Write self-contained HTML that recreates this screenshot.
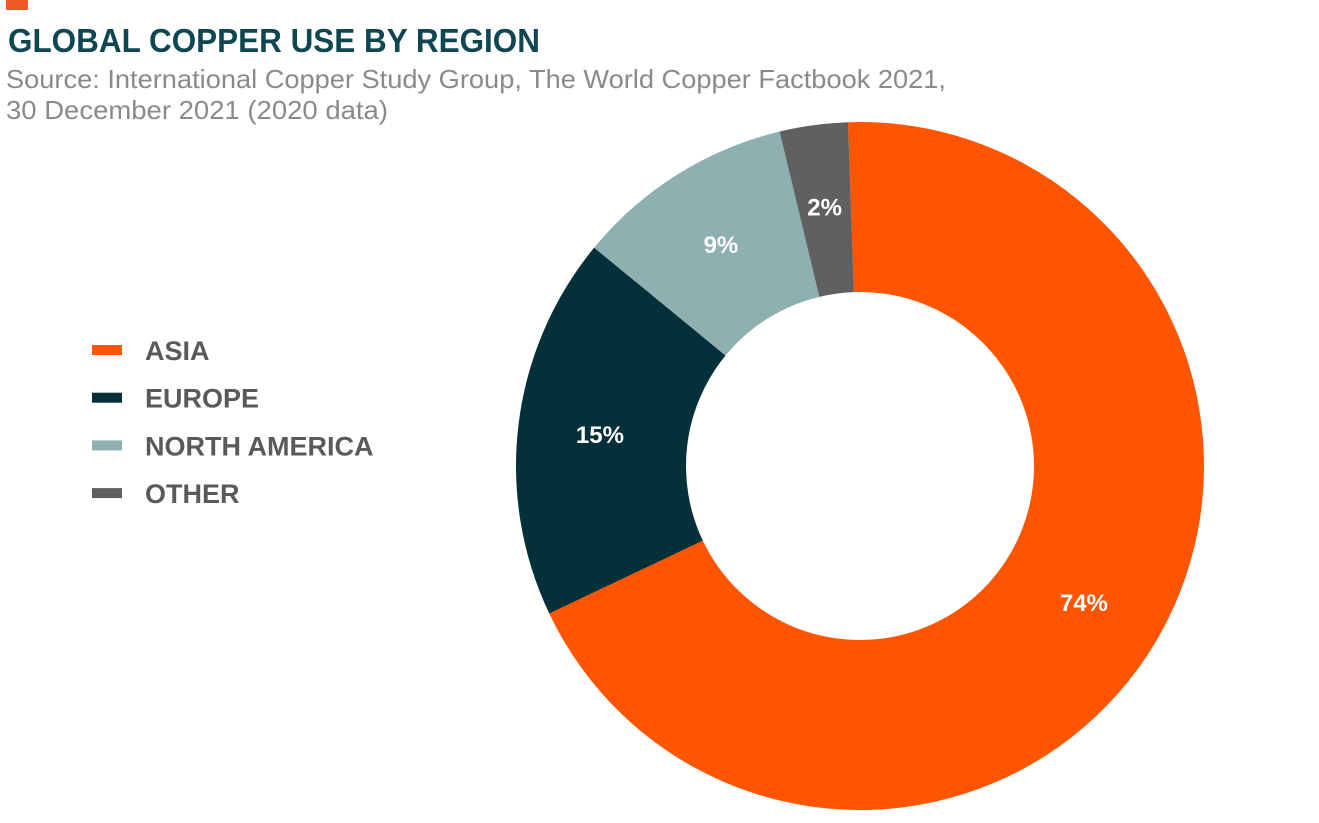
<!DOCTYPE html>
<html><head><meta charset="utf-8"><style>
html,body{margin:0;padding:0;background:#fff;}
svg{display:block;font-family:"Liberation Sans",sans-serif;}
</style></head><body>
<svg id="chart" width="1319" height="823" viewBox="0 0 1319 823">
<rect x="6" y="0" width="22" height="10" fill="#f15a24"/>
<text x="8" y="52" font-size="33" font-weight="bold" fill="#0e4651" textLength="532" lengthAdjust="spacingAndGlyphs">GLOBAL COPPER USE BY REGION</text>
<text x="6" y="88" font-size="26" fill="#8a8a8a" textLength="940" lengthAdjust="spacingAndGlyphs">Source: International Copper Study Group, The World Copper Factbook 2021,</text>
<text x="6" y="119" font-size="26" fill="#8a8a8a" textLength="382" lengthAdjust="spacingAndGlyphs">30 December 2021 (2020 data)</text>
<g id="legend"></g>
<g id="slices"></g>
<g id="labels"></g>
</svg>
<script>
const categories = ["ASIA","EUROPE","NORTH AMERICA","OTHER"];
const values = [68.5, 18, 10.3, 3.2];
const printedLabels = ["74%","15%","9%","2%"];
const colors = ["#ff5500","#04303a","#8fb0b0","#606060"];
const NS="http://www.w3.org/2000/svg";
const cx=860, cy=466, R=344, r=174, startDeg=-2, labelR=262;
const total=values.reduce((a,b)=>a+b,0);
function angle(v){return (startDeg + v/total*360)*Math.PI/180;}
function pt(a,rad){return [cx+rad*Math.sin(a), cy-rad*Math.cos(a)];}
const sg=document.getElementById('slices'), lg=document.getElementById('labels'), leg=document.getElementById('legend');
let acc=0;
values.forEach((v,i)=>{
  const a0=angle(acc), a1=angle(acc+v); acc+=v;
  const large=(a1-a0)>Math.PI?1:0;
  const p0=pt(a0,R),p1=pt(a1,R),q1=pt(a1,r),q0=pt(a0,r);
  const p=document.createElementNS(NS,'path');
  p.setAttribute('d',`M${p0} A${R},${R} 0 ${large} 1 ${p1} L${q1} A${r},${r} 0 ${large} 0 ${q0} Z`);
  p.setAttribute('fill',colors[i]);
  
  
  sg.appendChild(p);
  const am=(a0+a1)/2, lp=pt(am,labelR);
  const t=document.createElementNS(NS,'text');
  t.setAttribute('x',lp[0]); t.setAttribute('y',lp[1]+9);
  t.setAttribute('text-anchor','middle'); t.setAttribute('font-size','24'); t.setAttribute('font-weight','bold'); t.setAttribute('fill','#fff');
  t.textContent=printedLabels[i];
  
  
  lg.appendChild(t);
  const y=350+i*47.7;
  const s=document.createElementNS(NS,'rect');
  s.setAttribute('x',92); s.setAttribute('y',y-5); s.setAttribute('width',30); s.setAttribute('height',10); s.setAttribute('fill',colors[i]);
  
  
  leg.appendChild(s);
  const lt=document.createElementNS(NS,'text');
  lt.setAttribute('x',145); lt.setAttribute('y',y+10); lt.setAttribute('font-size','27'); lt.setAttribute('font-weight','bold'); lt.setAttribute('fill','#5a5a5a');
  lt.textContent=categories[i];
  
  
  leg.appendChild(lt);
});
</script>
</body></html>
